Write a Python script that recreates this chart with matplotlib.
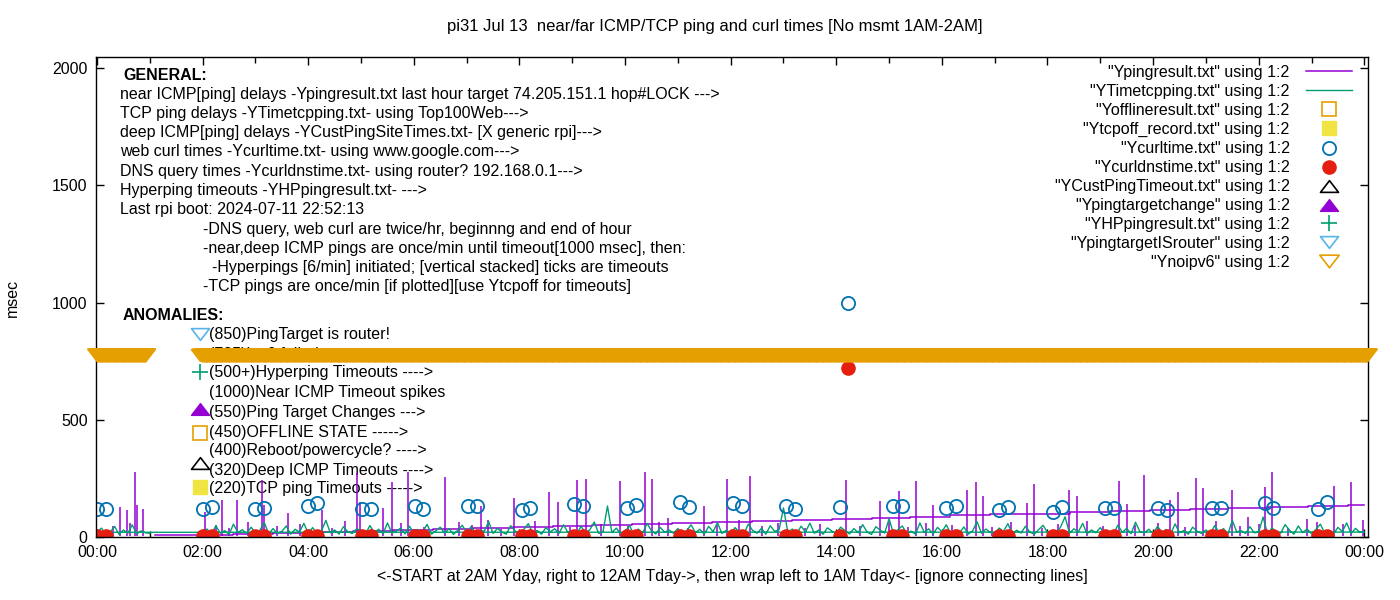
import numpy as np
import matplotlib.pyplot as plt
from matplotlib.ticker import MultipleLocator, FuncFormatter
from matplotlib.path import Path

W, H = 1400, 600

# ---- data: times in hours after midnight, values in msec ----
# web curl times (twice per hour)
curl_t = [0.00, 0.17, 2.01, 2.17, 2.99, 3.16, 4.00, 4.17, 5.02, 5.19,
          6.02, 6.17, 7.03, 7.20, 8.05, 8.20, 9.03, 9.20, 10.04, 10.21,
          11.04, 11.21, 12.05, 12.22, 13.05, 13.22, 14.07, 14.22, 15.08, 15.25,
          16.08, 16.27, 17.08, 17.25, 18.11, 18.28, 19.09, 19.26, 20.09, 20.27,
          21.12, 21.29, 22.12, 22.27, 23.12, 23.30]
curl_ms = [119, 119, 119, 128, 119, 124, 132, 145, 119, 119,
           132, 119, 132, 132, 115, 124, 141, 132, 124, 136,
           149, 128, 145, 132, 132, 119, 128, 1000, 132, 132,
           124, 132, 115, 128, 107, 128, 124, 124, 124, 115,
           124, 124, 145, 124, 119, 149]
# DNS query times, same runs
dns_ms = [3, 3, 3, 3, 3, 3, 3, 3, 3, 3,
          3, 3, 3, 3, 3, 3, 3, 3, 3, 3,
          3, 3, 3, 3, 3, 3, 3, 720, 3, 3,
          3, 3, 3, 3, 3, 3, 3, 3, 3, 3,
          3, 3, 3, 3, 3, 3]

# near ICMP ping spikes (Ypingresult)
spike_t = [0.44, 0.57, 0.72, 0.76, 0.87, 2.05, 2.37, 2.65, 3.13, 3.16,
           3.62, 4.26, 4.92, 4.98, 5.42, 5.59, 5.89, 6.59, 7.27, 7.41,
           7.90, 8.56, 8.73, 9.09, 9.26, 9.91, 10.38, 10.51, 10.81, 11.50,
           11.93, 12.37, 14.19, 14.83, 15.19, 15.51, 15.83, 16.48, 16.65, 16.78,
           17.61, 17.75, 18.41, 18.56, 19.36, 19.51, 19.83, 20.32, 20.47, 20.81,
           20.95, 21.50, 21.80, 22.12, 22.25, 22.92, 23.43, 23.75, 23.98,
           0.30, 0.62, 2.25, 2.50, 2.85, 3.40, 3.85, 4.45, 4.70, 5.20,
           5.75, 6.20, 6.85, 7.10, 7.65, 8.30, 8.95, 9.55, 10.05, 10.65,
           11.20, 11.75, 12.15, 12.60, 12.90, 13.40, 13.70, 14.45, 15.00, 15.35,
           15.70, 16.20, 16.95, 17.30, 17.90, 18.20, 18.75, 19.05, 19.65, 20.10,
           20.60, 21.20, 21.65, 22.00, 22.55, 23.10, 23.60]
spike_ms = [128, 115, 277, 136, 119, 107, 158, 158, 243, 136,
            102, 115, 273, 149, 124, 235, 277, 256, 132, 72,
            166, 192, 149, 243, 247, 239, 277, 247, 81, 132,
            247, 260, 243, 153, 196, 239, 136, 200, 235, 175,
            145, 226, 200, 175, 239, 141, 264, 158, 192, 252,
            209, 200, 85, 213, 277, 77, 217, 235, 72,
            45, 60, 52, 38, 66, 48, 55, 40, 70, 35,
            58, 44, 62, 50, 36, 68, 42, 57, 46, 64,
            39, 53, 71, 47, 60, 37, 55, 49, 66, 41,
            58, 52, 44, 63, 38, 56, 69, 45, 51, 60,
            43, 67, 48, 54, 40, 62, 57]

# slowly rising near ICMP level (connecting segments)
stair_t = [1.10, 1.95, 2.58, 3.33, 4.09, 4.85, 5.61, 6.36, 7.12, 7.88,
           8.64, 9.38, 10.13, 10.89, 11.65, 12.41, 13.16, 13.92, 14.68, 15.40,
           16.16, 16.91, 17.67, 18.43, 19.19, 19.94, 20.70, 21.42, 22.18, 22.94,
           23.69, 24.00]
stair_ms = [8, 8, 12, 17, 21, 26, 30, 34, 39, 43,
            48, 52, 56, 61, 65, 70, 74, 78, 83, 87,
            92, 96, 100, 105, 109, 114, 118, 122, 127, 131,
            135, 135]

# TCP ping delays, one value per 5 min, file order 2AM..24:00 then 0:00..1:00
tcp_hours = [2, 3, 4, 5, 6, 7, 8, 9, 10, 11, 12, 13, 14, 15, 16, 17, 18, 19, 20, 21, 22, 23]
tcp_rows = [
    [20, 34, 12, 48, 16, 27, 11, 55, 19, 31, 14, 42],
    [17, 29, 62, 13, 36, 15, 24, 47, 12, 33, 21, 58],
    [16, 40, 13, 26, 71, 18, 30, 12, 44, 22, 15, 35],
    [28, 12, 49, 19, 33, 14, 60, 17, 25, 38, 13, 46],
    [15, 31, 20, 54, 12, 27, 42, 16, 36, 11, 29, 50],
    [19, 44, 13, 30, 24, 66, 15, 37, 21, 12, 48, 26],
    [14, 33, 57, 17, 28, 12, 40, 22, 35, 16, 52, 20],
    [27, 13, 45, 18, 31, 64, 15, 24, 132, 19, 38, 14],
    [22, 49, 12, 34, 17, 58, 26, 13, 41, 20, 30, 16],
    [36, 14, 27, 52, 18, 33, 12, 45, 23, 61, 15, 29],
    [17, 40, 21, 13, 55, 28, 16, 37, 12, 48, 24, 31],
    [124, 19, 34, 14, 46, 22, 59, 16, 30, 12, 39, 25],
    [15, 42, 27, 13, 36, 18, 53, 21, 11, 44, 29, 17],
    [78, 14, 31, 47, 16, 25, 12, 60, 20, 35, 13, 41],
    [23, 52, 15, 30, 18, 43, 12, 27, 65, 16, 34, 20],
    [13, 38, 24, 57, 14, 29, 17, 46, 21, 12, 32, 50],
    [19, 27, 13, 44, 86, 16, 35, 22, 58, 14, 30, 18],
    [40, 15, 26, 12, 51, 20, 37, 14, 63, 23, 17, 33],
    [16, 45, 21, 32, 13, 56, 18, 28, 12, 42, 25, 15],
    [30, 14, 49, 19, 36, 12, 71, 22, 27, 15, 44, 18],
    [21, 85, 13, 38, 24, 16, 53, 29, 12, 47, 19, 34],
    [14, 32, 55, 17, 26, 13, 41, 23, 60, 15, 37, 20],
]
tcp_end_ms = 21                      # 24:00 sample
tcp_wrap_ms = [20, 38, 12, 22, 45, 11, 30, 16, 52, 13, 26, 18, 15]   # 0:00..1:00

# ipv6 failure: open down-triangles once per minute at 775 msec
ipv6_spans = [(0.0, 0.93), (1.99, 24.07)]
ipv6_ms = 775

# empty series (only shown in the key)
offline_t, offline_ms = [], []
tcpoff_t, tcpoff_ms = [], []
deep_to_t, deep_to_ms = [], []
tgtchg_t, tgtchg_ms = [], []
hp_t, hp_ms = [], []
router_t, router_ms = [], []

# ---- build time arrays from the 5-min rows ----
tcp_t, tcp_ms = [], []
for hr, row in zip(tcp_hours, tcp_rows):
    for k, v in enumerate(row):
        tcp_t.append(hr + k * 5 / 60)
        tcp_ms.append(v)
tcp_t.append(24.0)
tcp_ms.append(tcp_end_ms)
for k, v in enumerate(tcp_wrap_ms):
    tcp_t.append(k * 5 / 60)
    tcp_ms.append(v)

ipv6_t = np.concatenate([np.arange(a, b, 1 / 60) for a, b in ipv6_spans])

PURPLE = '#9400d3'
GREEN = '#009e73'
LBLUE = '#56b4e9'
ORANGE = '#e69f00'
YELLOW = '#f0e442'
BLUE = '#0072b2'
RED = '#e51e10'

tri_down = Path([(-1, 0.65), (1, 0.65), (0, -0.65), (-1, 0.65)],
                [Path.MOVETO, Path.LINETO, Path.LINETO, Path.CLOSEPOLY])
tri_up = Path([(-1, -0.65), (1, -0.65), (0, 0.65), (-1, -0.65)],
              [Path.MOVETO, Path.LINETO, Path.LINETO, Path.CLOSEPOLY])

plt.rcParams['font.family'] = ['Liberation Sans', 'DejaVu Sans']

fig = plt.figure(figsize=(14, 6), dpi=100)
ax = fig.add_axes([96 / W, 1 - 537 / H, 1272 / W, 480 / H])


def fpx(x, y):
    return x / W, 1 - y / H


# series
ax.vlines(spike_t, 4, spike_ms, color=PURPLE, lw=1.1)
ax.plot(stair_t, stair_ms, color=PURPLE, lw=1.1, drawstyle='steps-post',
        label='"Ypingresult.txt" using 1:2')
ax.plot(tcp_t, tcp_ms, color=GREEN, lw=1.0,
        label='"YTimetcpping.txt" using 1:2')
ax.plot(offline_t, offline_ms, 's', mfc='none', mec=ORANGE, ms=10, mew=1.2,
        label='"Yofflineresult.txt" using 1:2')
ax.plot(tcpoff_t, tcpoff_ms, 's', color=YELLOW, ms=10,
        label='"Ytcpoff_record.txt" using 1:2')
ax.plot(curl_t, curl_ms, 'o', mfc='none', mec=BLUE, ms=9.5, mew=1.3,
        label='"Ycurltime.txt" using 1:2')
ax.plot(curl_t, dns_ms, 'o', color=RED, ms=9.5,
        label='"Ycurldnstime.txt" using 1:2')
ax.plot(deep_to_t, deep_to_ms, marker=tri_up, ls='none', mfc='none', mec='black',
        ms=13, mew=1.2, label='"YCustPingTimeout.txt" using 1:2')
ax.plot(tgtchg_t, tgtchg_ms, marker=tri_up, ls='none', color=PURPLE, ms=13,
        label='"Ypingtargetchange" using 1:2')
ax.plot(hp_t, hp_ms, '+', color=GREEN, ms=11, mew=1.2,
        label='"YHPpingresult.txt" using 1:2')
ax.plot(router_t, router_ms, marker=tri_down, ls='none', mfc='none', mec=LBLUE,
        ms=13, mew=1.2, label='"YpingtargetISrouter" using 1:2')
ax.plot(ipv6_t, np.full(len(ipv6_t), ipv6_ms), marker=tri_down, ls='none',
        mfc='none', mec=ORANGE, ms=14, mew=1.2, clip_on=False, zorder=3,
        label='"Ynoipv6" using 1:2')

ax.set_xlim(-0.02, 24.07)
ax.set_ylim(0, 2047)
ax.xaxis.set_major_locator(MultipleLocator(2))
ax.xaxis.set_minor_locator(MultipleLocator(1))
ax.xaxis.set_major_formatter(FuncFormatter(lambda v, p: f'{int(round(v)) % 24:02d}:00'))
ax.yaxis.set_major_locator(MultipleLocator(500))
ax.tick_params(which='both', direction='in', top=True, right=True, labelsize=11.5,
               width=1, colors='black')
ax.tick_params(which='major', length=6, pad=6)
ax.tick_params(which='minor', length=4)
for s in ax.spines.values():
    s.set_linewidth(1)

ax.set_xlabel('<-START at 2AM Yday, right to 12AM Tday->, then wrap left to 1AM Tday<- [ignore connecting lines]',
              fontsize=11.5, labelpad=6)
ax.set_ylabel('msec', fontsize=11.5)
ax.yaxis.set_label_coords((20 - 96) / 1272, (537 - 298) / 480)
fig.text(715 / W, 1 - 26 / H,
         'pi31 Jul 13  near/far ICMP/TCP ping and curl times [No msmt 1AM-2AM]',
         ha='center', va='center', fontsize=12)

leg = ax.legend(loc='upper right', bbox_to_anchor=fpx(1352, 65), bbox_transform=fig.transFigure,
                frameon=False, markerfirst=False, fontsize=11.5, handlelength=2.9,
                handletextpad=1.0, labelspacing=0.25, borderpad=0, borderaxespad=0)

# GENERAL block
gen_lines = [
    (120, 'near ICMP[ping] delays -Ypingresult.txt last hour target 74.205.151.1 hop#LOCK --->'),
    (120, 'TCP ping delays -YTimetcpping.txt- using Top100Web--->'),
    (120, 'deep ICMP[ping] delays -YCustPingSiteTimes.txt- [X generic rpi]--->'),
    (120, 'web curl times -Ycurltime.txt- using www.google.com--->'),
    (120, 'DNS query times -Ycurldnstime.txt- using router? 192.168.0.1--->'),
    (120, 'Hyperping timeouts -YHPpingresult.txt- --->'),
    (120, 'Last rpi boot: 2024-07-11 22:52:13'),
    (203, '-DNS query, web curl are twice/hr, beginnng and end of hour'),
    (203, '-near,deep ICMP pings are once/min until timeout[1000 msec], then:'),
    (203, '  -Hyperpings [6/min] initiated; [vertical stacked] ticks are timeouts'),
    (203, '-TCP pings are once/min [if plotted][use Ytcpoff for timeouts]'),
]
fig.text(*fpx(123, 75), 'GENERAL:', fontsize=11.5, fontweight='bold', va='center')
for i, (x, s) in enumerate(gen_lines):
    fig.text(*fpx(x, 94 + i * 19.3), s, fontsize=11.5, va='center')

fig.text(*fpx(123, 315), 'ANOMALIES:', fontsize=11.5, fontweight='bold', va='center')
anom = [
    (335, '(850)PingTarget is router!'),
    (354, '(785)ipv6 failed --->'),
    (373, '(500+)Hyperping Timeouts ---->'),
    (393, '(1000)Near ICMP Timeout spikes'),
    (412, '(550)Ping Target Changes --->'),
    (432, '(450)OFFLINE STATE ----->'),
    (451, '(400)Reboot/powercycle? ---->'),
    (470, '(320)Deep ICMP Timeouts ---->'),
    (489, '(220)TCP ping Timeouts ----->'),
]
ft = fig.transFigure
for y, s in anom:
    ax.text(*fpx(209, y), s, fontsize=11.5, va='center', transform=ft, zorder=1)

ax.plot(*fpx(200, 334), marker=tri_down, mfc='none', mec=LBLUE, ms=13, mew=1.2, transform=ft, clip_on=False)
ax.plot(*fpx(200, 355), marker=tri_down, mfc='none', mec=ORANGE, ms=13, mew=1.2, transform=ft, clip_on=False)
ax.plot(*fpx(200, 372), marker='+', color=GREEN, ms=11, mew=1.2, transform=ft, clip_on=False)
ax.plot(*fpx(200, 409), marker=tri_up, color=PURPLE, ms=13, transform=ft, clip_on=False)
ax.plot(*fpx(200, 433), marker='s', mfc='none', mec=ORANGE, ms=10, mew=1.2, transform=ft, clip_on=False)
ax.plot(*fpx(200, 463), marker=tri_up, mfc='none', mec='black', ms=13, mew=1.2, transform=ft, clip_on=False)
ax.plot(*fpx(200, 487), marker='s', color=YELLOW, ms=10, transform=ft, clip_on=False)

fig.savefig('out.png', dpi=100)
